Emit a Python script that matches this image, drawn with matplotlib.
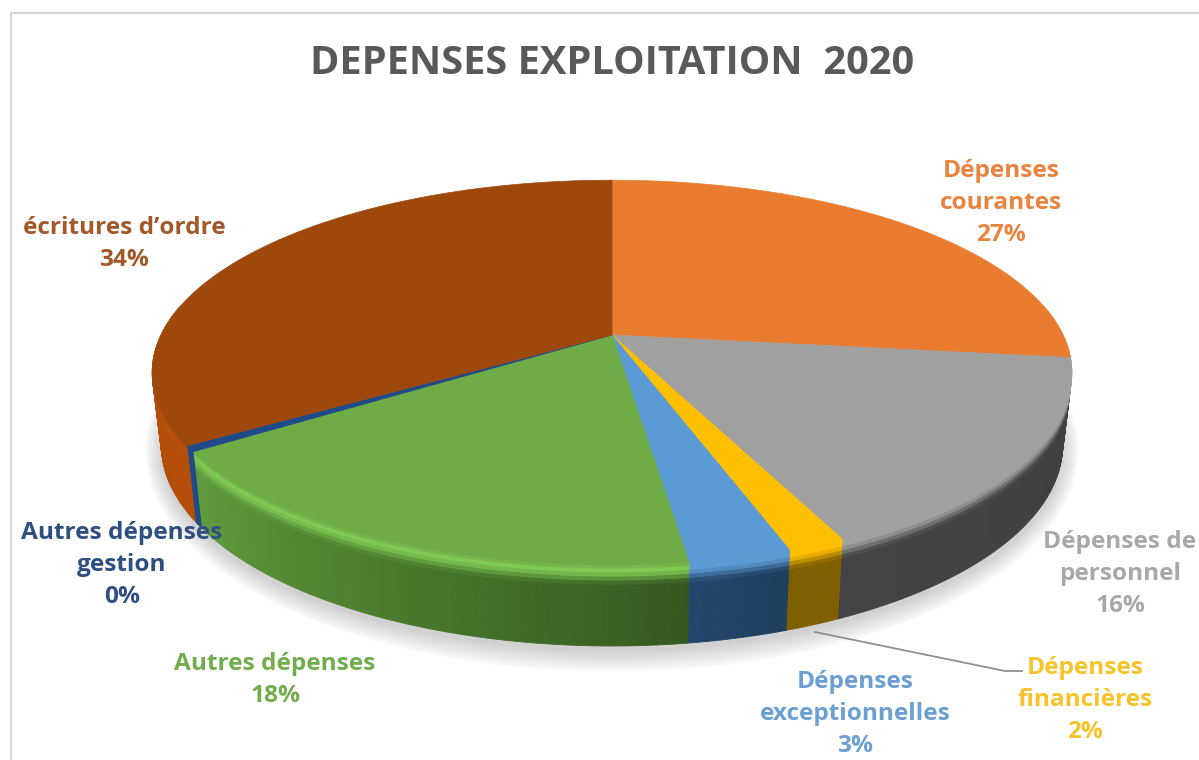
#!/usr/bin/env python3
"""Perspective pie of the 2020 operating expenses, drawn in pixel coordinates."""
import numpy as np
import matplotlib
matplotlib.use("Agg")
import matplotlib.pyplot as plt
from matplotlib.collections import PolyCollection
from matplotlib.colors import to_rgb

TITLE = "DEPENSES EXPLOITATION  2020"
NAMES = ["Dépenses\ncourantes", "Dépenses de\npersonnel", "Dépenses\nfinancières",
         "Dépenses\nexceptionnelles", "Autres dépenses", "Autres dépenses\ngestion",
         "écritures d’ordre"]
VALUES = [26.9, 16.2, 1.7, 3.0, 17.7, 0.49, 34.01]

TOP_COLORS = ["#ea7c30", "#a0a0a0", "#ffc000", "#5b9bd5", "#6fab46", "#1f4a8a", "#9e480c"]
BEVEL_COLORS = ["#ea7c30", "#a0a0a0", "#ffc000", "#5b9bd5", "#7fc955", "#1f4a8a", "#b8500c"]
SIDE_START = ["#b05a20", "#3f3f3f", "#7f6000", "#1f3f60", "#36591f", "#1f4a8a", "#b54e0a"]
SIDE_END = ["#404040", "#434343", "#7f6000", "#24466c", "#5f9c3b", "#1f4a8a", "#a64808"]
TEXT_COLORS = ["#e8843e", "#a8a8a8", "#f6c32a", "#6c9fd2", "#72ad4c", "#2f4f82", "#a2582a"]
LABEL_POS = [(1001, 203), (1120, 574), (1085, 700), (855, 714), (275, 680), (122, 565), (124, 244)]

CX, CY = 612, 335
K = 0.195
SX, SY = 451, 185


def top_point(t):
    # t runs clockwise from 12 o'clock, in radians
    u, v = np.sin(t), -np.cos(t)
    d = 1 - K * v
    return CX + SX * u / d, CY + SY * v / d


def bottom_point(t):
    x, y = top_point(t)
    return CX + (x - CX) * 0.98, 445 + (y - 372.5) * 1.045


fig = plt.figure(figsize=(11.99, 7.6), dpi=100)
ax = fig.add_axes([0, 0, 1, 1])
ax.set_xlim(0, 1199)
ax.set_ylim(760, 0)
ax.axis("off")
plt.rcParams["font.family"] = ["Open Sans", "DejaVu Sans"]

# chart frame, only the top and left edges are inside the crop
ax.plot([11, 11, 1199], [760, 13, 13], color="#d6d6d6", lw=1.6, zorder=1)

# soft shadow under the pie
ts = np.linspace(0, 2 * np.pi, 300)
for i in range(14):
    bx, by = bottom_point(ts)
    grow = 1 + i * 0.0028
    ax.fill(CX + (bx - CX) * grow, 450 + (by - 445) * (1 + i * 0.008), color="#707070",
            alpha=0.022, lw=0, zorder=2)

# slice edges as angles
edges = np.concatenate([[0], np.cumsum(VALUES)]) / np.sum(VALUES) * 2 * np.pi

# outer wall with a bevel along the rim
rows = np.linspace(0, 1, 21)
quads, colors = [], []
for i in range(len(VALUES)):
    tt = np.linspace(edges[i], edges[i + 1], max(3, int((edges[i + 1] - edges[i]) * 90)))
    c0, c1 = np.array(to_rgb(SIDE_START[i])), np.array(to_rgb(SIDE_END[i]))
    bev = np.array(to_rgb(BEVEL_COLORS[i]))
    top = np.array(to_rgb(TOP_COLORS[i]))
    for j in range(len(tt) - 1):
        if -np.cos(tt[j]) < -0.15 and -np.cos(tt[j + 1]) < -0.15:
            continue
        frac = j / max(1, len(tt) - 2)
        base = c0 + (c1 - c0) * frac
        x0, y0 = top_point(tt[j])
        x1, y1 = top_point(tt[j + 1])
        x2, y2 = bottom_point(tt[j + 1])
        x3, y3 = bottom_point(tt[j])
        for a, b in zip(rows[:-1], rows[1:]):
            quads.append([(x0 + (x3 - x0) * a, y0 + (y3 - y0) * a),
                          (x1 + (x2 - x1) * a, y1 + (y2 - y1) * a),
                          (x1 + (x2 - x1) * b, y1 + (y2 - y1) * b),
                          (x0 + (x3 - x0) * b, y0 + (y3 - y0) * b)])
            f = (a + b) / 2
            if f < 0.07:
                colors.append(top + (bev - top) * f / 0.07)
            else:
                m = min(1.0, (f - 0.07) / 0.2)
                m = m * m * (3 - 2 * m)
                colors.append(bev + (base - bev) * m)
ax.add_collection(PolyCollection(quads, facecolors=colors, edgecolors=colors, linewidths=0.6,
                                 zorder=3))

# top face
for i in range(len(VALUES)):
    tt = np.linspace(edges[i], edges[i + 1], 120)
    x, y = top_point(tt)
    ax.fill(np.r_[CX, x], np.r_[CY, y], color=TOP_COLORS[i], lw=0.5, zorder=4)

# leader line of the small slice
ax.plot([815, 1005, 1022], [632, 671, 671], color="#8f8f8f", lw=1.3, zorder=5)

for name, val, col, (lx, ly) in zip(NAMES, VALUES, TEXT_COLORS, LABEL_POS):
    ax.text(lx, ly, f"{name}\n{round(val)}%", color=col, ha="center", va="center",
            fontsize=17.6, fontweight="bold", linespacing=1.42, zorder=6)

ax.text(612, 63, TITLE, color="#595959", ha="center", va="center", fontsize=28.6,
        fontweight="bold", zorder=6)

fig.savefig("out.png", dpi=100)
